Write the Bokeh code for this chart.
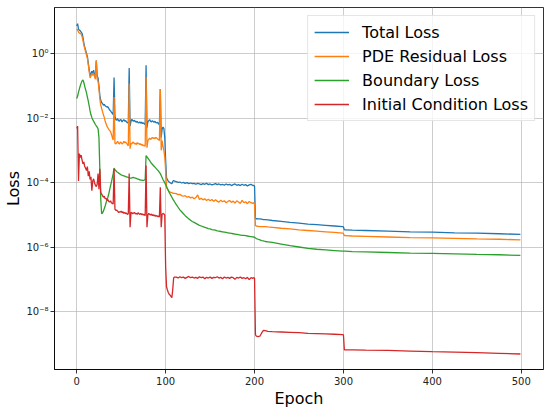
import numpy as np
from bokeh.plotting import figure
from bokeh.models import FixedTicker, CustomJSTickFormatter
from bokeh.embed import file_html
from bokeh.resources import INLINE

# ---- epochs (x positions of the recorded samples) ----
epochs_a = list(range(0, 111))
epochs_b = list(range(112, 199, 2))
epochs_c = [199, 200, 201, 202, 204, 206, 208, 210, 212, 215, 220, 230, 240, 250, 260, 270, 280, 290, 299]
epochs_d = [300, 301, 302, 310, 325, 350, 375, 400, 425, 450, 475, 499]

# ---- log10 of loss values ----
total_a = [0.85, 0.92, 0.75, 0.72, 0.70, 0.66, 0.62, 0.50, 0.32, 0.20,
           0.10, 0.00, -0.10, -0.30, -0.50, -0.70, -0.62, -0.55, -0.62, -0.52,
           -0.66, -0.72, -0.22, -0.70, -0.76, -1.00, -1.30, -1.45, -1.52, -1.55,
           -1.60, -1.58, -1.62, -1.64, -1.66, -1.65, -1.70, -1.75, -1.78, -1.82,
           -1.85, -1.90, -0.75, -1.95, -2.05, -2.07, -2.02, -2.08, -2.10, -2.05,
           -2.06, -2.12, -2.08, -2.05, -2.10, -2.08, -2.12, -2.15, -2.14, -0.45,
           -2.25, -2.10, -2.04, -2.08, -2.10, -2.07, -2.11, -2.13, -2.10, -2.14,
           -2.15, -2.12, -2.16, -2.13, -2.17, -2.15, -2.18, -2.20, -0.37, -2.30,
           -2.12, -2.08, -2.05, -2.10, -2.12, -2.08, -2.11, -2.13, -2.10, -2.14,
           -2.15, -2.13, -2.18, -2.20, -1.10, -2.60, -2.35, -2.28, -2.32, -2.60,
           -3.30, -3.85, -3.90, -3.95, -3.98, -4.00, -4.02, -4.03, -3.96, -3.93, -3.95]
total_b = [-3.97, -3.99, -3.98, -4.01, -3.99, -4.02, -4.00, -4.03, -4.01, -4.03,
           -4.02, -4.05, -4.02, -4.04, -4.06, -4.03, -4.05, -4.02, -4.06, -4.04,
           -4.07, -4.05, -4.03, -4.06, -4.04, -4.07, -4.05, -4.08, -4.04, -4.07,
           -4.05, -4.09, -4.06, -4.04, -4.08, -4.06, -4.09, -4.05, -4.08, -4.06,
           -4.10, -4.07, -4.05, -4.09]
total_c = [-4.08, -4.10, -5.12, -5.11, -5.12, -5.12, -5.13, -5.14, -5.14, -5.15,
           -5.17, -5.20, -5.23, -5.25, -5.28, -5.30, -5.32, -5.34, -5.36]
total_d = [-5.37, -5.46, -5.46, -5.47, -5.48, -5.50, -5.52, -5.53, -5.55, -5.56, -5.58, -5.60]

pde_a = [0.76, 0.72, 0.66, 0.63, 0.62, 0.60, 0.52, 0.40, 0.26, 0.15,
         0.05, -0.05, -0.15, -0.35, -0.55, -0.76, -0.70, -0.62, -0.68, -0.60,
         -0.72, -0.80, -0.22, -0.80, -0.86, -1.10, -1.40, -1.60, -1.70, -1.80,
         -1.90, -1.98, -2.10, -2.18, -2.25, -2.30, -2.35, -2.38, -2.42, -2.50,
         -2.60, -2.68, -1.35, -2.78, -2.80, -2.76, -2.72, -2.78, -2.80, -2.74,
         -2.76, -2.80, -2.78, -2.72, -2.76, -2.74, -2.78, -2.82, -2.86, -0.93,
         -2.95, -2.78, -2.80, -2.74, -2.76, -2.80, -2.78, -2.82, -2.76, -2.80,
         -2.78, -2.82, -2.80, -2.84, -2.82, -2.86, -2.84, -2.88, -0.73, -2.92,
         -2.70, -2.66, -2.62, -2.66, -2.64, -2.60, -2.63, -2.61, -2.64, -2.60,
         -2.62, -2.65, -2.66, -2.70, -1.10, -3.00, -2.70, -2.88, -3.00, -3.20,
         -3.60, -4.15, -4.20, -4.24, -4.27, -4.29, -4.30, -4.31, -4.32, -4.33, -4.33]
pde_b = [-4.34, -4.37, -4.36, -4.40, -4.42, -4.40, -4.45, -4.43, -4.47, -4.45,
         -4.50, -4.46, -4.38, -4.52, -4.48, -4.53, -4.50, -4.55, -4.51, -4.56,
         -4.52, -4.58, -4.53, -4.57, -4.60, -4.54, -4.59, -4.56, -4.62, -4.58,
         -4.55, -4.61, -4.57, -4.63, -4.56, -4.60, -4.64, -4.55, -4.62, -4.59,
         -4.65, -4.58, -4.62, -4.64]
pde_c = [-4.62, -4.65, -5.33, -5.34, -5.35, -5.36, -5.36, -5.36, -5.36, -5.37,
         -5.38, -5.41, -5.43, -5.46, -5.48, -5.50, -5.52, -5.54, -5.56]
pde_d = [-5.57, -5.64, -5.64, -5.65, -5.66, -5.68, -5.70, -5.71, -5.72, -5.74, -5.75, -5.77]

bc_a = [-1.40, -1.32, -1.20, -1.10, -1.00, -0.92, -0.85, -0.82, -0.90, -1.02,
        -1.12, -1.22, -1.35, -1.48, -1.62, -1.78, -1.90, -1.98, -2.05, -2.10,
        -2.15, -2.20, -2.24, -2.28, -2.33, -2.60, -3.60, -4.50, -4.96, -4.94,
        -4.88, -4.80, -4.72, -4.62, -4.54, -4.45, -4.35, -4.22, -4.10, -3.98,
        -3.85, -3.72, -3.55, -3.60, -3.63, -3.66, -3.68, -3.70, -3.72, -3.74,
        -3.76, -3.77, -3.78, -3.79, -3.80, -3.81, -3.82, -3.83, -3.84, -3.85,
        -3.86, -3.86, -3.85, -3.84, -3.84, -3.85, -3.86, -3.87, -3.88, -3.89,
        -3.90, -3.91, -3.92, -3.92, -3.93, -3.93, -3.92, -3.90, -3.16, -3.20,
        -3.24, -3.28, -3.32, -3.36, -3.40, -3.43, -3.46, -3.49, -3.52, -3.55,
        -3.58, -3.61, -3.64, -3.68, -3.72, -3.78, -3.84, -3.90, -3.95, -4.00,
        -4.06, -4.12, -4.18, -4.24, -4.30, -4.35, -4.40, -4.45, -4.50, -4.55, -4.59]
bc_b = [-4.68, -4.76, -4.84, -4.90, -4.96, -5.02, -5.07, -5.12, -5.16, -5.20,
        -5.23, -5.26, -5.29, -5.32, -5.34, -5.36, -5.38, -5.40, -5.42, -5.43,
        -5.45, -5.46, -5.47, -5.49, -5.50, -5.51, -5.52, -5.53, -5.54, -5.55,
        -5.56, -5.57, -5.58, -5.59, -5.60, -5.61, -5.62, -5.63, -5.63, -5.64,
        -5.65, -5.66, -5.67, -5.68]
bc_c = [-5.68, -5.69, -5.71, -5.73, -5.75, -5.77, -5.79, -5.80, -5.82, -5.83,
        -5.85, -5.90, -5.95, -5.99, -6.03, -6.06, -6.08, -6.10, -6.12]
bc_d = [-6.12, -6.12, -6.12, -6.13, -6.14, -6.16, -6.18, -6.19, -6.20, -6.22, -6.23, -6.25]

ic_a = [-2.32, -2.25, -3.95, -3.10, -3.22, -3.15, -3.30, -3.42, -3.36, -3.50,
        -3.55, -3.62, -3.50, -3.80, -3.65, -3.90, -3.82, -4.25, -3.95, -3.88,
        -4.00, -4.08, -4.12, -4.05, -3.72, -4.20, -3.57, -4.30, -4.35, -4.40,
        -4.45, -4.42, -4.50, -4.48, -4.55, -4.52, -4.58, -4.60, -4.56, -4.62,
        -4.64, -4.66, -3.57, -4.82, -4.86, -4.85, -4.88, -4.92, -4.90, -4.91,
        -4.88, -4.93, -4.90, -4.95, -4.92, -4.96, -4.94, -4.98, -4.96, -3.72,
        -5.38, -4.92, -4.93, -4.96, -4.94, -4.92, -4.97, -4.95, -4.98, -4.93,
        -4.96, -4.98, -4.95, -4.99, -4.97, -5.00, -4.98, -5.02, -3.47, -5.38,
        -5.00, -4.95, -4.98, -5.00, -4.97, -5.02, -4.99, -5.03, -5.00, -5.04,
        -5.02, -5.05, -5.03, -5.06, -4.14, -5.38, -4.98, -4.95, -4.97, -5.00,
        -6.60, -7.22, -7.32, -7.40, -7.45, -7.48, -7.52, -7.56, -7.30, -6.95, -6.92]
ic_b = [-6.92, -6.95, -6.91, -6.94, -6.92, -6.96, -6.93, -6.90, -6.94, -6.92,
        -6.95, -6.93, -6.96, -6.91, -6.94, -6.92, -6.97, -6.93, -6.95, -6.92,
        -6.96, -6.93, -6.94, -6.91, -6.95, -6.93, -6.97, -6.92, -6.95, -6.93,
        -6.96, -6.92, -6.94, -6.99, -6.93, -6.95, -6.92, -6.96, -6.94, -6.97,
        -6.93, -7.00, -6.94, -6.96]
ic_c = [-6.94, -6.95, -8.70, -8.75, -8.76, -8.75, -8.65, -8.57, -8.58, -8.60,
        -8.61, -8.62, -8.63, -8.64, -8.66, -8.67, -8.68, -8.69, -8.70]
ic_d = [-8.71, -9.17, -9.17, -9.17, -9.18, -9.19, -9.21, -9.23, -9.24, -9.26, -9.28, -9.30]

series_names = ["Total Loss", "PDE Residual Loss", "Boundary Loss", "Initial Condition Loss"]
series_colors = ["#1f77b4", "#ff7f0e", "#2ca02c", "#d62728"]
x_ticks = [0, 100, 200, 300, 400, 500]
y_ticks = [1e-8, 1e-6, 1e-4, 1e-2, 1e0]

epochs = epochs_a + epochs_b + epochs_c + epochs_d
series_logs = [total_a + total_b + total_c + total_d,
               pde_a + pde_b + pde_c + pde_d,
               bc_a + bc_b + bc_c + bc_d,
               ic_a + ic_b + ic_c + ic_d]

FONT = "DejaVu Sans"

p = figure(frame_width=489, frame_height=362, y_axis_type="log",
           x_range=(-25, 525), y_range=(10 ** -9.78, 10 ** 1.42),
           output_backend="svg", toolbar_location=None,
           min_border_left=54, min_border_right=6, min_border_top=7, min_border_bottom=0)

for name, color, logs in zip(series_names, series_colors, series_logs):
    p.line(epochs, 10 ** np.array(logs), line_color=color, line_width=1.3, legend_label=name)

p.xaxis.ticker = FixedTicker(ticks=x_ticks)
p.yaxis.ticker = FixedTicker(ticks=y_ticks)
p.yaxis.formatter = CustomJSTickFormatter(code="""
const e = Math.round(Math.log10(tick));
const sup = {'-':'\u207b','0':'\u2070','1':'\u00b9','2':'\u00b2','3':'\u00b3','4':'\u2074','5':'\u2075','6':'\u2076','7':'\u2077','8':'\u2078','9':'\u2079'};
return '10' + String(e).split('').map(c => sup[c]).join('');
""")

for ax in (p.xaxis, p.yaxis):
    ax.axis_line_color = "black"
    ax.axis_line_width = 0.8
    ax.major_tick_line_color = "black"
    ax.major_tick_line_width = 0.8
    ax.major_tick_out = 4
    ax.major_tick_in = 0
    ax.minor_tick_line_color = None
    ax.major_label_text_font = FONT
    ax.major_label_text_font_size = "10px"
    ax.major_label_text_color = "#222222"
    ax.major_label_standoff = 3
    ax.axis_label_text_font = FONT
    ax.axis_label_text_font_size = "16px"
    ax.axis_label_text_font_style = "normal"
    ax.axis_label_text_color = "black"

p.xaxis.axis_label = "Epoch"
p.yaxis.axis_label = "Loss"
p.xaxis.axis_label_standoff = 1
p.yaxis.axis_label_standoff = 0
p.yaxis.major_label_standoff = 2

p.grid.grid_line_color = "#b0b0b0"
p.grid.grid_line_width = 0.8
p.grid.grid_line_alpha = 0.8
p.outline_line_color = "black"
p.outline_line_width = 0.8
p.background_fill_color = "white"

lg = p.legend[0]
lg.location = "top_right"
lg.label_text_font = FONT
lg.label_text_font_size = "16px"
lg.label_text_color = "black"
lg.glyph_width = 35
lg.label_standoff = 13
lg.padding = 6
lg.spacing = 4
lg.margin = 8
lg.border_line_color = "#cccccc"
lg.border_line_width = 1
lg.background_fill_alpha = 0.8

open("out.html", "w").write(file_html(p, INLINE))
